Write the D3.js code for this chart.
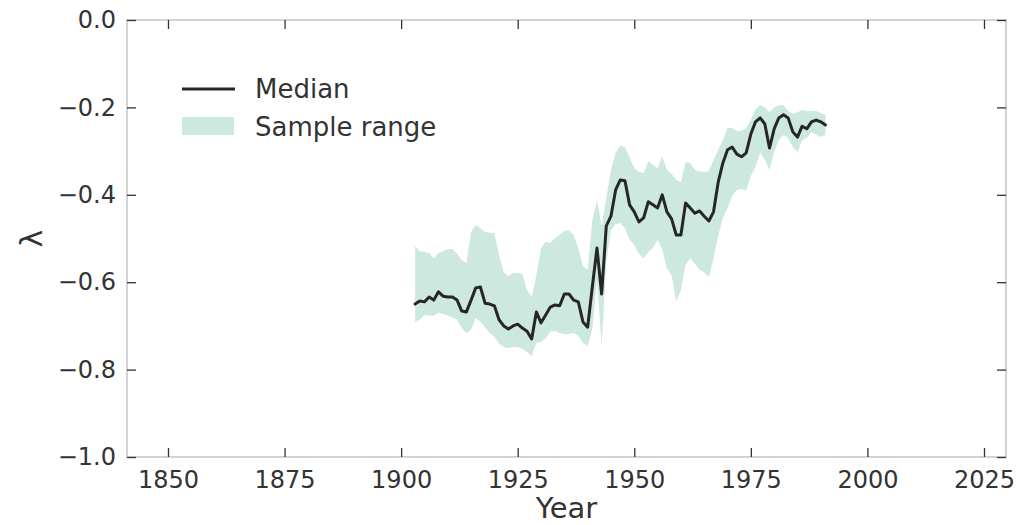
<!DOCTYPE html>
<html>
<head>
<meta charset="utf-8">
<script src="https://cdn.jsdelivr.net/npm/d3@7"></script>
<style>
  html, body { margin: 0; padding: 0; background: #fff; }
  svg { display: block; }
  text { font-family: "DejaVu Sans", sans-serif; fill: #333; }
</style>
</head>
<body>
<svg id="chart" width="1018" height="525"></svg>
<script>
// ---------- data ----------
const startYear = 1903;
const median = [
  -0.650, -0.643, -0.645, -0.634, -0.641, -0.622, -0.632, -0.634, -0.634, -0.641,
  -0.666, -0.668, -0.641, -0.613, -0.611, -0.648, -0.650, -0.654, -0.686, -0.700,
  -0.707, -0.700, -0.696, -0.705, -0.712, -0.730, -0.668, -0.693, -0.675, -0.657,
  -0.652, -0.654, -0.627, -0.627, -0.641, -0.645, -0.691, -0.703, -0.611, -0.522,
  -0.627, -0.471, -0.449, -0.389, -0.366, -0.368, -0.423, -0.439, -0.462, -0.453,
  -0.416, -0.423, -0.430, -0.400, -0.439, -0.455, -0.492, -0.492, -0.419, -0.430,
  -0.442, -0.437, -0.449, -0.460, -0.439, -0.371, -0.327, -0.297, -0.291, -0.307,
  -0.313, -0.304, -0.261, -0.233, -0.224, -0.238, -0.293, -0.249, -0.224, -0.217,
  -0.224, -0.256, -0.268, -0.243, -0.249, -0.233, -0.229, -0.233, -0.240
];
const upper = [
  -0.517, -0.529, -0.531, -0.533, -0.545, -0.533, -0.529, -0.524, -0.524, -0.535,
  -0.549, -0.556, -0.485, -0.469, -0.476, -0.485, -0.487, -0.487, -0.538, -0.577,
  -0.586, -0.579, -0.579, -0.581, -0.618, -0.634, -0.584, -0.522, -0.508, -0.510,
  -0.499, -0.492, -0.483, -0.481, -0.492, -0.522, -0.563, -0.572, -0.458, -0.412,
  -0.471, -0.407, -0.343, -0.304, -0.288, -0.291, -0.314, -0.339, -0.348, -0.350,
  -0.323, -0.332, -0.339, -0.311, -0.343, -0.352, -0.366, -0.371, -0.325, -0.327,
  -0.343, -0.346, -0.348, -0.346, -0.320, -0.297, -0.275, -0.247, -0.247, -0.254,
  -0.254, -0.247, -0.229, -0.204, -0.195, -0.199, -0.211, -0.201, -0.195, -0.195,
  -0.208, -0.215, -0.211, -0.206, -0.208, -0.208, -0.208, -0.213, -0.217
];
const lower = [
  -0.691, -0.686, -0.675, -0.677, -0.677, -0.670, -0.673, -0.677, -0.680, -0.686,
  -0.705, -0.716, -0.709, -0.682, -0.691, -0.703, -0.716, -0.725, -0.741, -0.748,
  -0.751, -0.748, -0.748, -0.753, -0.760, -0.769, -0.739, -0.737, -0.728, -0.712,
  -0.712, -0.716, -0.719, -0.719, -0.716, -0.723, -0.739, -0.746, -0.709, -0.595,
  -0.744, -0.554, -0.481, -0.467, -0.465, -0.476, -0.503, -0.515, -0.535, -0.545,
  -0.531, -0.522, -0.503, -0.526, -0.568, -0.584, -0.645, -0.618, -0.561, -0.545,
  -0.558, -0.572, -0.577, -0.588, -0.545, -0.494, -0.453, -0.430, -0.403, -0.389,
  -0.387, -0.391, -0.357, -0.336, -0.304, -0.320, -0.343, -0.302, -0.275, -0.263,
  -0.270, -0.291, -0.302, -0.275, -0.270, -0.256, -0.263, -0.268, -0.263
];
const xTicks = [1850, 1875, 1900, 1925, 1950, 1975, 2000, 2025];
const yTicks = [-1.0, -0.8, -0.6, -0.4, -0.2, 0.0];
const yTickLabels = ["\u22121.0", "\u22120.8", "\u22120.6", "\u22120.4", "\u22120.2", "0.0"];
const xLabel = "Year";
const yLabel = "\u03bb";
const legendLabels = ["Median", "Sample range"];

// ---------- layout ----------
const L = 127, R = 1006, T = 20, B = 457;
const bandColor = "#cde9df";
const lineColor = "#262626";
const spineColor = "#cfcfcf";
const tickColor = "#333";

const rows = median.map((m, i) => ({ year: startYear + i, m, lo: lower[i], hi: upper[i] }));

const x = d3.scaleLinear().domain([1841.21, 2029.72]).range([L, R]);
const y = d3.scaleLinear().domain([-1, 0]).range([B, T]);

const svg = d3.select("#chart");

// band
svg.append("path")
  .datum(rows)
  .attr("d", d3.area().x(d => x(d.year)).y0(d => y(d.lo)).y1(d => y(d.hi)))
  .attr("fill", bandColor)
  .attr("stroke", "none");

// median line
svg.append("path")
  .datum(rows)
  .attr("d", d3.line().x(d => x(d.year)).y(d => y(d.m)))
  .attr("fill", "none")
  .attr("stroke", lineColor)
  .attr("stroke-width", 3)
  .attr("stroke-linejoin", "round")
  .attr("stroke-linecap", "round");

// spines
svg.append("rect")
  .attr("x", L).attr("y", T).attr("width", R - L).attr("height", B - T)
  .attr("fill", "none").attr("stroke", spineColor).attr("stroke-width", 1.8);

// axes with inward ticks
const tickLen = 9;
const xb = svg.append("g").attr("transform", `translate(0,${B})`)
  .call(d3.axisBottom(x).tickValues(xTicks).tickSize(-tickLen).tickPadding(14).tickFormat(d3.format("d")));
const xt = svg.append("g").attr("transform", `translate(0,${T})`)
  .call(d3.axisTop(x).tickValues(xTicks).tickSize(-tickLen).tickFormat(""));
const yl = svg.append("g").attr("transform", `translate(${L},0)`)
  .call(d3.axisLeft(y).tickValues(yTicks).tickSize(-tickLen).tickPadding(11)
    .tickFormat((d, i) => yTickLabels[i]));
const yr = svg.append("g").attr("transform", `translate(${R},0)`)
  .call(d3.axisRight(y).tickValues(yTicks).tickSize(-tickLen).tickFormat(""));

[xb, xt, yl, yr].forEach(g => {
  g.select(".domain").remove();
  g.selectAll(".tick line").attr("stroke", tickColor).attr("stroke-width", 1.3);
  g.selectAll(".tick text")
    .style("font-family", "'DejaVu Sans', sans-serif")
    .style("font-size", "24px")
    .attr("fill", "#333");
});

// axis labels
svg.append("text")
  .attr("x", (L + R) / 2).attr("y", 518)
  .attr("text-anchor", "middle")
  .style("font-size", "29px")
  .text(xLabel);

svg.append("text")
  .attr("transform", `translate(42,${(T + B) / 2}) rotate(-90)`)
  .attr("text-anchor", "middle")
  .style("font-size", "30px")
  .text(yLabel);

// legend
const lg = svg.append("g");
lg.append("line")
  .attr("x1", 182).attr("x2", 235).attr("y1", 89).attr("y2", 89)
  .attr("stroke", lineColor).attr("stroke-width", 3);
lg.append("rect")
  .attr("x", 182).attr("y", 117).attr("width", 52).attr("height", 18)
  .attr("fill", bandColor);
lg.append("text").attr("x", 255).attr("y", 89).attr("dy", "0.35em")
  .style("font-size", "26px").text(legendLabels[0]);
lg.append("text").attr("x", 255).attr("y", 127).attr("dy", "0.35em")
  .style("font-size", "26px").text(legendLabels[1]);
</script>
</body>
</html>
